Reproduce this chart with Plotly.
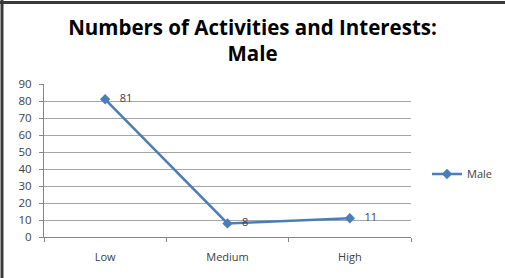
import plotly.graph_objects as go

categories = ["Low", "Medium", "High"]
male_values = [81, 8, 11]
y_ticks = [0, 10, 20, 30, 40, 50, 60, 70, 80, 90]

W, H = 505, 278
L, R, T, B = 44, 94, 84, 41
PW, PH = W - L - R, H - T - B

fig = go.Figure()
fig.add_trace(go.Scatter(
    x=categories, y=male_values, name="Male",
    mode="lines+markers+text",
    line=dict(color="#4A7EBB", width=2.5),
    marker=dict(symbol="diamond", size=8, color="#4A7EBB"),
    text=["   " + str(v) for v in male_values],
    textposition="middle right",
    textfont=dict(family="Open Sans", size=11, color="#404040"),
    cliponaxis=False,
))

fig.update_layout(
    width=W, height=H,
    margin=dict(l=L, r=R, t=T, b=B, autoexpand=False),
    paper_bgcolor="white", plot_bgcolor="white",
    title=dict(
        text="<b>Numbers of Activities and Interests:<br>Male</b>",
        x=0.5, xanchor="center", y=0.875, yanchor="top",
        font=dict(family="Open Sans", size=20.5, color="black"),
    ),
    showlegend=True,
    legend=dict(x=(427 - L) / PW, y=1 - (174 - T) / PH, xanchor="left", yanchor="middle",
                font=dict(family="Open Sans", size=11, color="#404040"),
                itemwidth=30, bgcolor="rgba(0,0,0,0)"),
    xaxis=dict(
        type="category", range=[-0.5, 2.5], tickson="boundaries", ticks="outside", ticklen=4,
        tickcolor="#868686", showline=True, linecolor="#868686",
        showgrid=False, zeroline=False, ticklabelstandoff=10,
        tickfont=dict(family="Open Sans", size=11, color="#404040"),
    ),
    yaxis=dict(
        range=[0, 90], tickvals=y_ticks, ticks="outside", ticklen=4,
        tickcolor="#868686", showline=True, linecolor="#868686",
        showgrid=True, gridcolor="#A6A6A6", gridwidth=1, zeroline=False,
        ticklabelstandoff=5,
        tickfont=dict(family="Open Sans", size=11.5, color="#404040"),
    ),
)

# frame edges (top and left) as in the reference crop
fig.add_shape(type="line", xref="paper", yref="paper", x0=-L / PW, x1=(W - L) / PW,
              y0=1 + (T - 2.5) / PH, y1=1 + (T - 2.5) / PH,
              line=dict(color="#3A3A3A", width=3))
fig.add_shape(type="line", xref="paper", yref="paper", x0=-(L - 2) / PW, x1=-(L - 2) / PW,
              y0=-B / PH, y1=1 + T / PH, line=dict(color="#3A3A3A", width=3))

fig.write_html("out.html", config={"displayModeBar": False},
               post_script="document.body.style.margin='0';")
